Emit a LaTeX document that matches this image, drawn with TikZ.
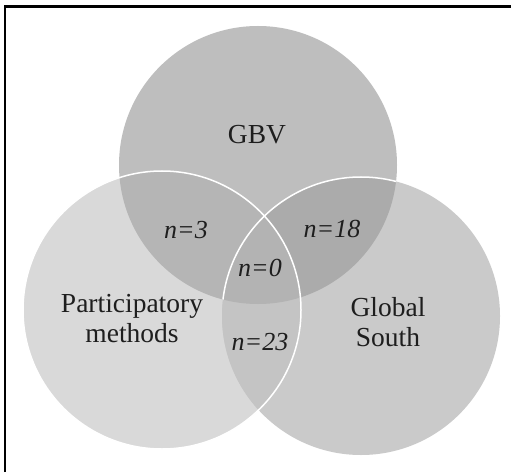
\documentclass[tikz,border=0pt]{standalone}
\usepackage{fontspec}
\setmainfont{Liberation Serif}
\definecolor{gGBV}{HTML}{BEBEBE}
\definecolor{gP}{HTML}{D9D9D9}
\definecolor{gGS}{HTML}{CACACA}
\definecolor{gBP}{HTML}{B5B5B5}
\definecolor{gBG}{HTML}{ABABAB}
\definecolor{gPG}{HTML}{C4C4C4}
\definecolor{gAll}{HTML}{B3B3B3}
\definecolor{txt}{HTML}{1E1E1E}
\tikzset{
  lbl/.style={font=\fontsize{27.5}{30}\selectfont, text=txt, align=center, inner sep=0pt},
  cnt/.style={font=\fontsize{26}{28}\selectfont\itshape, text=txt, inner sep=0pt},
  rim/.style={draw=white, line width=1.5pt}
}
\begin{document}
\begin{tikzpicture}[x=1pt,y=1pt]
\useasboundingbox (0,0) rectangle (511,472);
\fill[white] (0,0) rectangle (511,472);
% circle centres (y up)
\coordinate (cB) at (258,307);
\coordinate (cP) at (162,162);
\coordinate (cG) at (361,156);
\def\R{139}
\fill[gGBV] (cB) circle (\R);
\fill[gP] (cP) circle (\R);
\fill[gGS] (cG) circle (\R);
\begin{scope}
  \clip (cB) circle (\R);
  \fill[gBP] (cP) circle (\R);
  \fill[gBG] (cG) circle (\R);
\end{scope}
\begin{scope}
  \clip (cP) circle (\R);
  \fill[gPG] (cG) circle (\R);
\end{scope}
\begin{scope}
  \clip (cB) circle (\R);
  \clip (cP) circle (\R);
  \fill[gAll] (cG) circle (\R);
\end{scope}
\begin{scope}
  \clip (cB) circle (\R);
  \draw[rim] (cG) circle (\R);
\end{scope}
\draw[rim] (cP) circle (\R);
% border
\draw[line width=2.2pt] (5,0) -- (5,465.5) -- (511,465.5);
% labels
\node[lbl] (gbv) at (257,337) {GBV};
\node[lbl] (pm) at (132,153) {Participatory\\methods};
\node[lbl] (gs) at (388,150) {Global\\South};
\node[cnt] (n3) at (186,242) {n=3};
\node[cnt] (n18) at (332,243) {n=18};
\node[cnt] (n0) at (260,204) {n=0};
\node[cnt] (n23) at (260,130) {n=23};
\end{tikzpicture}
\end{document}
